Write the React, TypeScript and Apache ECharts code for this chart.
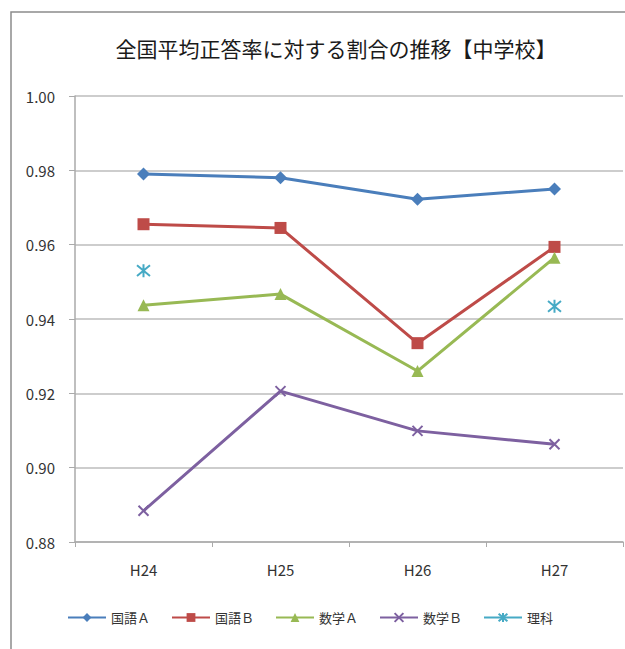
import React, { useEffect, useRef } from "react";
import * as echarts from "echarts";

const categories = ["H24", "H25", "H26", "H27"];
const kokugoA = [0.979, 0.978, 0.9722, 0.975];
const kokugoB = [0.9655, 0.9645, 0.9335, 0.9594];
const sugakuA = [0.9437, 0.9467, 0.926, 0.9565];
const sugakuB = [0.8884, 0.9206, 0.9099, 0.9063];
const rika = [0.953, null, null, 0.9434];

const FONT = '"Noto Sans CJK JP", "Noto Sans", sans-serif';

const crossPath = "path://M0 0 L10 10 M10 0 L0 10";
const starPath = "path://M0 0 L10 10 M10 0 L0 10 M5 -1 L5 11";

export default function App() {
  const ref = useRef<HTMLDivElement>(null);

  useEffect(() => {
    if (!ref.current) return;
    const chart = echarts.init(ref.current, null, { renderer: "svg" });

    const line = (
      name: string,
      data: (number | null)[],
      color: string,
      symbol: string,
      symbolSize: number,
      stroke = false
    ) => ({
      name,
      type: "line",
      data,
      symbol,
      symbolSize,
      showSymbol: true,
      connectNulls: false,
      lineStyle: { color, width: 3 },
      itemStyle: stroke
        ? { color, borderColor: color, borderWidth: 2 }
        : { color, borderWidth: 0 },
      emphasis: { disabled: true },
    });

    chart.setOption({
      animation: false,
      backgroundColor: "#ffffff",
      graphic: [
        {
          type: "rect",
          shape: { x: 11, y: 12, width: 700, height: 700 },
          style: { fill: "none", stroke: "#8c8c8c", lineWidth: 1.5 },
          silent: true,
        },
      ],
      title: {
        text: "全国平均正答率に対する割合の推移【中学校】",
        left: 331,
        textAlign: "center",
        top: 32,
        textStyle: {
          fontFamily: FONT,
          fontSize: 21,
          fontWeight: "normal",
          color: "#1a1a1a",
        },
      },
      grid: { left: 75, right: 2, top: 96, bottom: 107 },
      xAxis: {
        type: "category",
        data: categories,
        boundaryGap: true,
        axisLine: { lineStyle: { color: "#aaaaaa", width: 1.5 } },
        axisTick: { show: true, length: 5, lineStyle: { color: "#aaaaaa" } },
        axisLabel: {
          fontFamily: FONT,
          fontSize: 15,
          color: "#333333",
          margin: 20,
        },
      },
      yAxis: {
        type: "value",
        min: 0.88,
        max: 1.0,
        interval: 0.02,
        axisLine: { show: true, lineStyle: { color: "#aaaaaa", width: 1.5 } },
        axisTick: {
          show: true,
          inside: false,
          length: 6,
          lineStyle: { color: "#aaaaaa" },
        },
        splitLine: { lineStyle: { color: "#bdbdbd", width: 1.5 } },
        axisLabel: {
          fontFamily: FONT,
          fontSize: 15,
          color: "#333333",
          margin: 20,
          formatter: (v: number) => v.toFixed(2),
        },
      },
      legend: {
        bottom: 20,
        left: 62,
        itemWidth: 38,
        itemHeight: 11,
        itemGap: 21,
        textStyle: { fontFamily: FONT, fontSize: 13, color: "#333333" },
        data: ["国語Ａ", "国語Ｂ", "数学Ａ", "数学Ｂ", "理科"],
      },
      series: [
        line("国語Ａ", kokugoA, "#4a7ebb", "diamond", 13),
        line("国語Ｂ", kokugoB, "#be4b48", "rect", 12),
        line("数学Ａ", sugakuA, "#98b954", "triangle", 12),
        line("数学Ｂ", sugakuB, "#7d60a0", crossPath, 10, true),
        line("理科", rika, "#46aac5", starPath, 13, true),
      ],
    });

    return () => chart.dispose();
  }, []);

  return (
    <div
      ref={ref}
      style={{ position: "fixed", left: 0, top: 0, width: 625, height: 649 }}
    />
  );
}
